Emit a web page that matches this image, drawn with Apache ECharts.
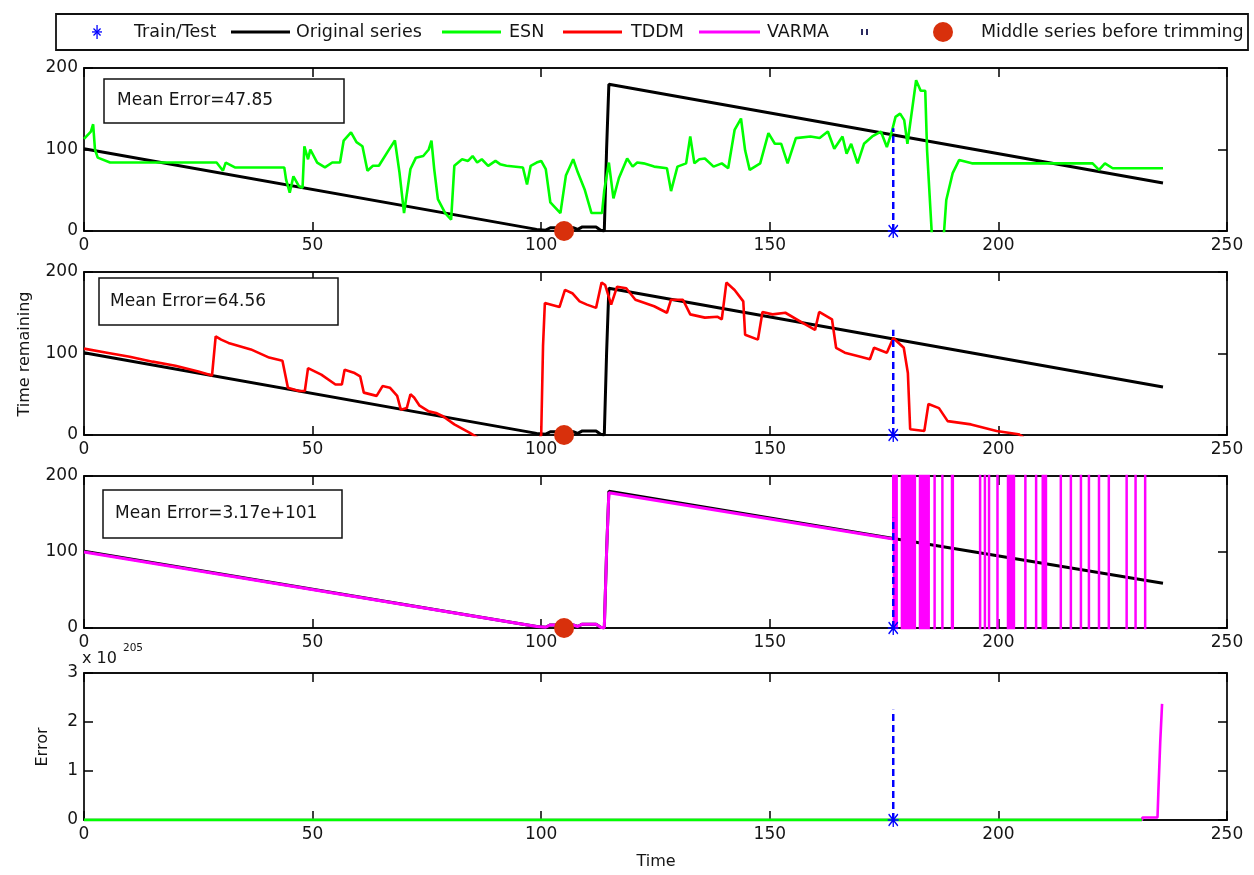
<!DOCTYPE html>
<html>
<head>
<meta charset="utf-8">
<script src="https://cdn.jsdelivr.net/npm/echarts@6/dist/echarts.min.js"></script>
<style>
  html, body { margin: 0; padding: 0; background: #fff; }
  #chart { width: 1254px; height: 875px; }
</style>
</head>
<body>
<div id="chart"></div>
<script>
// ---- data -------------------------------------------------------------
const xTicks = [0, 50, 100, 150, 200, 250];
const trainTestT = 177;            // split between training and test
const middleT = 105;               // middle series before trimming
const splitHeights = [126, 129, 145, 2.25];
const meanErrors = ['47.85', '64.56', '3.17e+101'];
const errorExponent = '205';

// original "time remaining" series (breakpoints)
const original = [[0,101],[99,2],[101,1],[102,4],[107,4],[108,2],[109,5],[112,5],[113,1],[113.8,0],[114.3,100],[114.8,180],[236,59]];

// ESN prediction
const esn = [[0,113],[1.5,122],[2,131],[2.4,100],[3,90],[5.7,84],[29,84],[30.4,74],[31,84],[33,78],[43.8,78],[44.2,63],[45,47],[45.8,67],[47,55],[47.8,53],[48.2,104],[49,88],[49.5,100],[51,84],[52.7,78],[54.3,84],[56,84],[56.8,111],[58.4,121],[59.6,109],[60.9,104],[62,74],[63.2,80],[64.5,80],[66.5,98],[68,111],[69,72],[70,22],[71.4,76],[72.6,90],[74.2,92],[75.4,100],[76,111],[76.6,76],[77.4,39],[79,22],[80.3,14],[81,80],[82.7,88],[84,86],[85,92],[86,84],[87,88],[88.4,80],[90,86],[91,82],[92.4,80],[96,78],[96.9,57],[97.7,80],[99,84],[100,86],[101,76],[102,35],[104.2,22],[105.4,68],[107,88],[108,72],[109.5,51],[111,22],[113.3,22],[113.8,50],[114.8,84],[115.8,40],[117,65],[118.8,89],[120,79],[121,84],[122.4,83],[124.7,79],[127.5,77],[128.4,49],[129.8,79],[131.7,83],[132.6,116],[133.5,83],[134.6,88],[135.8,89],[137.7,79],[139.5,83],[140.9,77],[142.3,124],[143.7,138],[144.6,99],[145.6,75],[147.9,83],[149.7,120],[151.1,107],[152.5,107],[153.9,83],[155.7,114],[158.9,116],[160.9,114],[162.7,122],[164.1,101],[165.9,116],[166.8,95],[167.8,107],[169.2,83],[170.6,107],[172.4,116],[174.3,122],[175.6,103],[176.6,120],[177.5,140],[178.5,144],[179.4,136],[180.1,107],[181.2,152],[182,185],[183,172],[184,172],[184.4,99],[185.6,-20],[186.8,-60],[188,-10],[188.6,38],[190,71],[191.4,87],[194.2,83],[220.6,83],[222,75],[223.3,83],[225,77],[236,77]];

// TDDM prediction
const tddm = [[0,106],[5,101],[10,96],[15,90],[20,85],[25,78],[28,73],[28.8,121],[30,117],[31.6,113],[36.5,105],[40.5,95],[43.4,91],[44.6,58],[47,54],[48.3,54],[49,82],[51.9,74],[55,62],[56.4,62],[57,80],[59.2,76],[60.4,72],[61.2,52],[64,48],[65.3,60],[66.9,58],[68.5,48],[69.3,31],[70.6,33],[71.4,50],[72.2,46],[73.4,36],[75.4,29],[77,27],[78.5,23],[81,13],[84.3,3],[86,-3],[92,-30],[99.6,-5],[100,0],[100.4,109],[100.8,162],[104,157],[105.2,178],[106.8,174],[108.4,164],[110,160],[112,156],[113.2,187],[114,184],[115.3,160],[116.6,182],[118.6,180],[120.6,166],[124.7,158],[127.5,150],[128.4,166],[131,166],[132.6,148],[135.8,144],[138.6,145],[139.5,142],[140.5,187],[142.3,178],[144.2,164],[144.6,123],[147.4,117],[148.4,151],[150.6,148],[153.4,150],[157.1,138],[159.9,129],[160.8,151],[163.6,142],[164.5,107],[166.4,101],[169.2,97],[171.9,93],[172.8,107],[175.6,101],[177,119],[179.3,107],[180.2,76],[180.7,7],[183.8,5],[184.7,38],[187,33],[188.9,17],[194,13],[199.6,5],[204.4,1],[205.5,-3]];

// VARMA: fitted part follows the series, forecast part diverges (+/- very large)
const varmaTrain = [[0,100],[99,2],[101,1],[102,4],[107,4],[108,2],[109,5],[112,5],[113,1],[113.8,0],[114.3,100],[114.8,178],[177,117]];
const varmaTest = [[177,117],[177,4e3],[177.3,-4e3],[177.6,4e3],[177.9,-4e3],
  [178.9,4e3],[179.2,-4e3],[179.5,4e3],[179.8,-4e3],[180.1,4e3],[180.4,-4e3],[180.7,4e3],[181,-4e3],[181.3,4e3],[181.6,-4e3],[181.85,4e3],
  [182.85,-4e3],[183.15,4e3],[183.45,-4e3],[183.75,4e3],[184.05,-4e3],[184.35,4e3],[184.65,-4e3],[184.85,4e3],
  [186.05,-4e3],[187.75,4e3],[189.85,-4e3],[190.2,4e3],[196,-4e3],[197.05,4e3],[197.95,-4e3],[199.8,4e3],
  [202.1,-4e3],[202.4,4e3],[202.7,-4e3],[203,4e3],[203.3,-4e3],[203.5,4e3],
  [205.9,-4e3],[208.25,4e3],[209.7,-4e3],[210,4e3],[210.3,-4e3],[210.5,4e3],[213.65,-4e3],[215.85,4e3],[218.05,-4e3],[219.8,4e3],[222,-4e3],[224.15,4e3],[228.05,-4e3],[230,4e3],[232.1,-4e3]];

// absolute errors, in units of 10^205
const errVarma = [[0,0],[231.4,0],[231.5,0.05],[234.8,0.05],[235,0.6],[235.4,1.6],[235.8,2.37]];
const errEsn = [[0,0],[231.4,0]];

// ---- layout -----------------------------------------------------------
const FONT = 'DejaVu Sans';
const TXT = '#151515';
const LEFT = 84, RIGHT = 27;
const panels = [
  { top: 68,  height: 163, max: 200, interval: 100 },
  { top: 272, height: 163, max: 200, interval: 100 },
  { top: 476, height: 152, max: 200, interval: 100 },
  { top: 673, height: 147, max: 3,   interval: 1 }
];
const C = { orig: '#000000', esn: '#00ff00', tddm: '#ff0000', varma: '#ff00ff', split: '#0000ff', mid: '#d8300c' };
const STAR = 'path://M4.4,0H5.6V10H4.4Z M0,4.4H10V5.6H0Z M1.2,0.4L9.6,8.8L8.8,9.6L0.4,1.2Z M8.8,0.4L9.6,1.2L1.2,9.6L0.4,8.8Z';

const grid = [], xAxis = [], yAxis = [];
const tickStyle = { color: '#000', width: 1.5 };
const lineStyle = { color: '#111', width: 1.8 };
const labelStyle = { show: true, fontFamily: FONT, fontSize: 17, color: TXT };
panels.forEach((p, i) => {
  grid.push({ left: LEFT, right: RIGHT, top: p.top, height: p.height });
  xAxis.push({
    gridIndex: i, type: 'value', min: xTicks[0], max: xTicks[xTicks.length - 1], interval: 50,
    position: 'bottom',
    axisLine: { show: true, onZero: false, lineStyle },
    axisTick: { show: true, inside: true, length: 9, lineStyle: tickStyle },
    axisLabel: Object.assign({ margin: 6 }, labelStyle),
    splitLine: { show: false }
  });
  xAxis.push({
    gridIndex: i, type: 'value', min: xTicks[0], max: xTicks[xTicks.length - 1], interval: 50,
    position: 'top',
    axisLine: { show: true, onZero: false, lineStyle },
    axisTick: { show: true, inside: true, length: 9, lineStyle: tickStyle },
    axisLabel: { show: false }, splitLine: { show: false }
  });
  yAxis.push({
    gridIndex: i, type: 'value', min: 0, max: p.max, interval: p.interval,
    position: 'left',
    axisLine: { show: true, onZero: false, lineStyle },
    axisTick: { show: true, inside: true, length: 9, lineStyle: tickStyle },
    axisLabel: Object.assign({ margin: 6 }, labelStyle),
    splitLine: { show: false }
  });
  yAxis.push({
    gridIndex: i, type: 'value', min: 0, max: p.max, interval: p.interval,
    position: 'right',
    axisLine: { show: true, onZero: false, lineStyle },
    axisTick: { show: true, inside: true, length: 9, lineStyle: tickStyle },
    axisLabel: { show: false }, splitLine: { show: false }
  });
});

function line(panel, data, color, width, extra) {
  return Object.assign({
    type: 'line', xAxisIndex: 2 * panel, yAxisIndex: 2 * panel, data,
    showSymbol: false, symbol: 'none', animation: false, clip: true,
    lineStyle: { color, width }, itemStyle: { color }, z: 2
  }, extra || {});
}
function splitLine(panel) {
  return [
    line(panel, [[trainTestT, 0], [trainTestT, splitHeights[panel]]], C.split, 2.5,
      { lineStyle: { color: C.split, width: 2.5, type: [7, 4] }, z: 4 }),
    { type: 'scatter', xAxisIndex: 2 * panel, yAxisIndex: 2 * panel, data: [[trainTestT, 0]],
      symbol: STAR, symbolSize: [11, 14], itemStyle: { color: C.split, opacity: 1 }, clip: false, animation: false, z: 5 }
  ];
}
function middleDot(panel) {
  return { type: 'scatter', xAxisIndex: 2 * panel, yAxisIndex: 2 * panel, data: [[middleT, 0]],
    symbol: 'circle', symbolSize: 20, itemStyle: { color: C.mid, opacity: 1 }, clip: false, animation: false, z: 6 };
}

const series = [
  line(0, original, C.orig, 3),
  line(0, esn, C.esn, 2.6, { z: 3 }),
  ...splitLine(0), middleDot(0),

  line(1, original, C.orig, 3),
  line(1, tddm, C.tddm, 2.6, { z: 3 }),
  ...splitLine(1), middleDot(1),

  line(2, original, C.orig, 3),
  line(2, varmaTrain, C.varma, 3, { z: 3 }),
  line(2, varmaTest, C.varma, 2.5, { z: 3, step: 'end' }),
  ...splitLine(2), middleDot(2),

  line(3, errVarma, C.varma, 2.6),
  line(3, errEsn, C.esn, 3, { z: 3 }),
  ...splitLine(3)
];

// ---- annotations, axis titles and legend --------------------------------
const boxes = [
  { x: 104, y: 79,  w: 240, h: 44, tx: 117 },
  { x: 99,  y: 278, w: 239, h: 47, tx: 110 },
  { x: 103, y: 490, w: 239, h: 48, tx: 115 }
];
const graphic = [];
boxes.forEach((b, i) => {
  graphic.push({ type: 'rect', shape: { x: b.x, y: b.y, width: b.w, height: b.h },
    style: { fill: '#fff', stroke: '#111', lineWidth: 1.5 }, z: 10 });
  graphic.push({ type: 'text', x: b.tx, y: b.y + b.h / 2,
    style: { text: 'Mean Error=' + meanErrors[i], font: '17px "' + FONT + '"', fill: TXT, textVerticalAlign: 'middle' }, z: 11 });
});

graphic.push({ type: 'text', x: 25, y: 354, rotation: Math.PI / 2,
  style: { text: 'Time remaining', font: '16px "' + FONT + '"', fill: TXT, textAlign: 'center', textVerticalAlign: 'middle' } });
graphic.push({ type: 'text', x: 43, y: 747, rotation: Math.PI / 2,
  style: { text: 'Error', font: '16px "' + FONT + '"', fill: TXT, textAlign: 'center', textVerticalAlign: 'middle' } });
graphic.push({ type: 'text', x: 656, y: 862,
  style: { text: 'Time', font: '16px "' + FONT + '"', fill: TXT, textAlign: 'center', textVerticalAlign: 'middle' } });
graphic.push({ type: 'text', x: 82, y: 659,
  style: { text: 'x 10', font: '16px "' + FONT + '"', fill: TXT, textVerticalAlign: 'middle' } });
graphic.push({ type: 'text', x: 123, y: 648,
  style: { text: errorExponent, font: '10.5px "' + FONT + '"', fill: TXT, textVerticalAlign: 'middle' } });

// legend
const LY = 32;
const LFONT = '17.5px "' + FONT + '"';
graphic.push({ type: 'rect', shape: { x: 56, y: 14, width: 1192, height: 36 },
  style: { fill: '#fff', stroke: '#111', lineWidth: 1.8 } });
// asterisk marker built from four thin bars
const starBars = [0, Math.PI / 2, Math.PI / 4, -Math.PI / 4].map((rot, k) => ({
  type: 'rect', rotation: rot,
  shape: { x: -0.6, y: k === 0 ? -7 : -5, width: 1.3, height: k === 0 ? 14 : 10 },
  style: { fill: C.split }
}));
graphic.push({ type: 'group', x: 97, y: LY, children: starBars });
const legendItems = [
  { text: 'Train/Test', tx: 134 },
  { text: 'Original series', tx: 296, color: C.orig, x1: 231, x2: 290 },
  { text: 'ESN', tx: 509, color: C.esn, x1: 442, x2: 501 },
  { text: 'TDDM', tx: 631, color: C.tddm, x1: 563, x2: 622 },
  { text: 'VARMA', tx: 767, color: C.varma, x1: 699, x2: 760 },
  { text: 'Middle series before trimming', tx: 981 }
];
legendItems.forEach(it => {
  if (it.color) {
    graphic.push({ type: 'line', shape: { x1: it.x1, y1: LY, x2: it.x2, y2: LY },
      style: { stroke: it.color, lineWidth: 3 } });
  }
  graphic.push({ type: 'text', x: it.tx, y: LY,
    style: { text: it.text, font: LFONT, fill: TXT, textVerticalAlign: 'middle' } });
});
graphic.push({ type: 'rect', shape: { x: 861, y: 29, width: 2, height: 6 }, style: { fill: '#2a2a60' } });
graphic.push({ type: 'rect', shape: { x: 866, y: 29, width: 2, height: 6 }, style: { fill: '#2a2a60' } });
graphic.push({ type: 'circle', shape: { cx: 943, cy: LY, r: 10 }, style: { fill: C.mid } });

const chart = echarts.init(document.getElementById('chart'), null, { renderer: 'canvas' });
chart.setOption({
  backgroundColor: '#fff',
  animation: false,
  grid, xAxis, yAxis, series, graphic
});
</script>
</body>
</html>
